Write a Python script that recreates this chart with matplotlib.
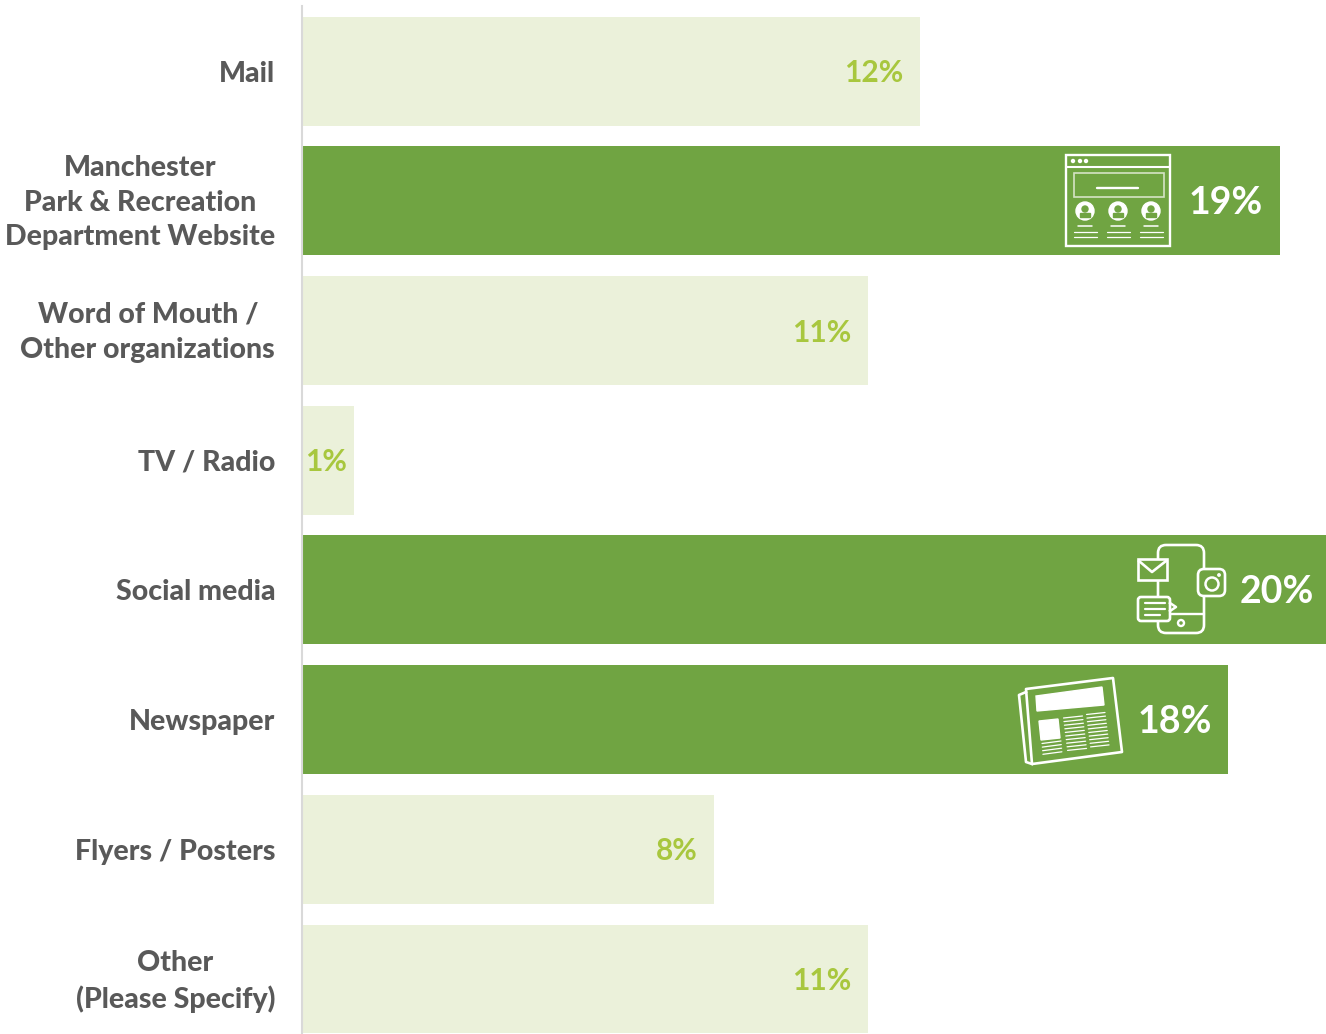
import matplotlib
matplotlib.use('Agg')
import matplotlib.pyplot as plt
from matplotlib.patches import Circle, FancyBboxPatch, Polygon, Rectangle
from matplotlib.transforms import ScaledTranslation

categories = ['Mail', 'Manchester\nPark & Recreation\nDepartment Website',
              'Word of Mouth /\nOther organizations', 'TV / Radio', 'Social media',
              'Newspaper', 'Flyers / Posters', 'Other\n(Please Specify)']
values = [12, 19, 11, 1, 20, 18, 8, 11]
highlight = [False, True, False, False, True, True, False, False]

DARK = '#70a442'
LIGHT = '#ebf1da'
LABEL = '#a8c73e'
TEXT = '#595959'
FONT = 'Lato'

W, H = 1326, 1034
fig = plt.figure(figsize=(W / 100, H / 100), dpi=100)
ax = fig.add_axes([302.6 / W, 0, 1 - 302.6 / W, 1 - 6 / H])

# set_position resets the ticks, so it has to come before the labels
for s in ['top', 'right', 'bottom']:
    ax.spines[s].set_visible(False)
ax.spines['left'].set_color('#d9d9d9')
ax.spines['left'].set_linewidth(1.5)
ax.spines['left'].set_position(('outward', 0.7))

colors = [DARK if h else LIGHT for h in highlight]
ax.barh(range(len(values)), values, height=0.84, color=colors)
ax.set_xlim(0, 19.9)
ax.set_ylim(7.4241, -0.5013)

ax.tick_params(axis='y', length=0, pad=19)
ax.set_xticks([])
ax.set_yticks(range(len(categories)))
ax.set_yticklabels(categories, fontfamily=FONT, fontweight='black', fontsize=20.5,
                   color=TEXT, ma='center', linespacing=1.42)
# multi-line labels sit a little higher in the original
for lab in ax.get_yticklabels():
    if '\n' in lab.get_text():
        lab.set_transform(lab.get_transform() + ScaledTranslation(0, 5 / 100, fig.dpi_scale_trans))

for i, v in enumerate(values):
    # the 1% bar is too short for the usual inset
    inset = 5 if v < 2 else 12
    ax.annotate(f'{v}%', (v, i), xytext=(-inset, -1.5), textcoords='offset points',
                ha='right', va='center', annotation_clip=False, clip_on=True,
                fontfamily=FONT, fontweight='bold',
                fontsize=27 if highlight[i] else 21.5,
                color='white' if highlight[i] else LABEL)

# icons, in image pixels
ov = fig.add_axes([0, 0, 1, 1])
ov.set_xlim(0, W)
ov.set_ylim(H, 0)
ov.axis('off')
ov.patch.set_alpha(0)


def line(x0, y0, x1, y1, lw=1.0):
    ov.plot([x0, x1], [y0, y1], color='white', lw=lw, solid_capstyle='round')


def round_box(x0, y0, x1, y1, r, lw=1.9, fill='none'):
    ov.add_patch(FancyBboxPatch((x0 + r, y0 + r), x1 - x0 - 2 * r, y1 - y0 - 2 * r,
                                boxstyle=f'round,pad={r},rounding_size={r}',
                                fc=fill, ec='white', lw=lw))


# website
ov.add_patch(Rectangle((1065.5, 154.5), 104, 91, fc='none', ec='white', lw=1.7))
line(1066, 167, 1169, 167, 1.5)
for x in [1073, 1080, 1086]:
    ov.add_patch(Circle((x, 161), 1.5, color='white'))
ov.add_patch(Rectangle((1073.5, 173), 90, 23.5, fc='none', ec='#d5e3c6', lw=1.2))
line(1097, 188, 1138, 188, 1.7)
for dx in [0, 33, 66]:
    ov.add_patch(Circle((1085 + dx, 211), 9, color='white'))
    ov.add_patch(Circle((1085 + dx, 209), 3, color=DARK))
    ov.add_patch(Rectangle((1080 + dx, 213), 10, 3.5, color=DARK))
    line(1078 + dx, 226, 1092 + dx, 226, 1.1)
    line(1074 + dx, 232, 1097 + dx, 232, 0.9)
    line(1074 + dx, 237, 1097 + dx, 237, 0.9)

# phone
round_box(1158, 545, 1204, 633, 8)
line(1170, 614, 1204, 614, 1.7)
ov.add_patch(Circle((1181, 623), 3, fc='none', ec='white', lw=1.7))
ov.add_patch(Rectangle((1137.5, 559), 29.5, 21, fc=DARK, ec='white', lw=1.9))
ov.plot([1139, 1152, 1166], [561, 572, 561], color='white', lw=1.9)
round_box(1198, 569, 1225, 596, 6, fill=DARK)
ov.add_patch(Circle((1212, 584), 6.5, fc='none', ec='white', lw=1.8))
ov.add_patch(Circle((1219, 575), 1.2, color='white'))
round_box(1138, 597, 1170, 621, 3, fill=DARK)
ov.plot([1170, 1176, 1170], [603, 607, 611], color='white', lw=1.8)
line(1145, 603, 1165, 603, 1.6)
line(1145, 609, 1165, 609, 1.6)
line(1145, 615, 1160, 615, 1.6)

# newspaper
ov.add_patch(Polygon([(1026, 689), (1113, 678), (1122, 752), (1032, 764)], closed=True,
                     fc='none', ec='white', lw=1.9, joinstyle='round'))
ov.plot([1026, 1019, 1026, 1032], [692, 695, 762, 764], color='white', lw=1.9)
ov.add_patch(Polygon([(1036, 696), (1102, 687), (1104, 705), (1037, 711)], closed=True, color='white'))
ov.add_patch(Polygon([(1039, 721), (1058, 719), (1060, 738), (1041, 740)], closed=True, color='white'))
for k in range(4):
    line(1042 + k * 0.3, 743.5 + k * 3.6, 1061 + k * 0.3, 741 + k * 3.6, 0.9)
for k in range(10):
    line(1063.5 + k * 0.45, 718 + k * 3.6, 1082.5 + k * 0.45, 716 + k * 3.6, 0.9)
    line(1086.5 + k * 0.45, 714.5 + k * 3.6, 1105 + k * 0.45, 712.5 + k * 3.6, 0.9)

fig.savefig('out.png', dpi=100)
